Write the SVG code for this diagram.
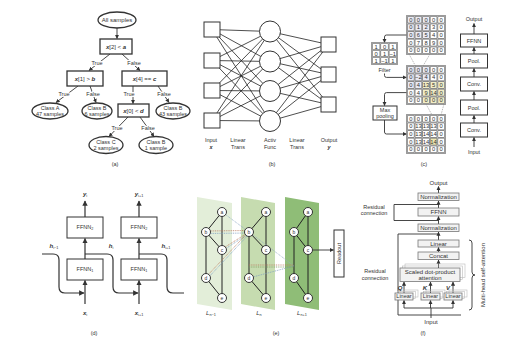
<svg xmlns="http://www.w3.org/2000/svg" width="529" height="338" viewBox="0 0 529 338">
<defs>
<style>
text{font-family:"Liberation Sans",Arial,sans-serif;fill:#333;text-anchor:middle}
.s6{font-size:6px}
.s55{font-size:5.5px}
.s5{font-size:5px}
.v{font-weight:bold;font-style:italic}
.bx{fill:#fff;stroke:#333;stroke-width:1.3}
.bx1{fill:#fff;stroke:#333;stroke-width:1}
.ln{fill:none;stroke:#333;stroke-width:0.9}
.lnk{fill:none;stroke:#222;stroke-width:0.8}
.arr{fill:none;stroke:#333;stroke-width:0.9;marker-end:url(#ah)}
.arrd{fill:none;stroke:#333;stroke-width:1.2;marker-end:url(#ah)}
.lbl{paint-order:stroke;stroke:#fff;stroke-width:2px}
.gbox{fill:#f2f2f2;stroke:#777;stroke-width:0.8}
.sh{fill:none;stroke:#bbb;stroke-width:0.6}
.dash{fill:none;stroke:#888;stroke-width:0.6;stroke-dasharray:1.5 1}
.num{font-size:5.8px;fill:#222}
.node{fill:#fff;stroke:#222;stroke-width:0.9}
.edge{fill:none;stroke:#222;stroke-width:1}
.dot{fill:none;stroke-width:0.8;stroke-dasharray:1 0.8}
.gO{fill:none;stroke:#555;stroke-width:1.5}
.gI{fill:none;stroke:#fff;stroke-width:0.45}
</style>
<marker id="ah" viewBox="0 0 10 10" refX="9" refY="5" markerWidth="4.5" markerHeight="4.5" orient="auto"><path d="M0,0L10,5L0,10z" fill="#333"/></marker>
</defs>
<rect width="529" height="338" fill="#fff"/>

<!-- ===== Panel (a) ===== -->
<g id="a-connectors">
<path class="arr" d="M117 28V38.5"/>
<path class="arr" d="M110 54L89 70.5"/>
<path class="arr" d="M122 54L140 70.5"/>
<path class="arr" d="M78 86L56 102.5"/>
<path class="arr" d="M90 86L96 102.5"/>
<path class="arr" d="M133 86V103.5"/>
<path class="arr" d="M158 86L169 102.5"/>
<path class="arr" d="M128 117L109 136.5"/>
<path class="arr" d="M140 117L154 136.5"/>
<text class="s55 lbl" x="97" y="65">True</text>
<text class="s55 lbl" x="134" y="65">False</text>
<text class="s55 lbl" x="64" y="96">True</text>
<text class="s55 lbl" x="93" y="96">False</text>
<text class="s55 lbl" x="129" y="96">True</text>
<text class="s55 lbl" x="164" y="96">False</text>
<text class="s55 lbl" x="117" y="130">True</text>
<text class="s55 lbl" x="148" y="130">False</text>
</g>
<g id="a-root"><ellipse class="bx" cx="117" cy="20" rx="19" ry="8"/><text class="s6" x="117" y="22">All samples</text></g>
<g id="a-n1"><rect class="bx" x="100" y="39" width="32" height="15"/><text class="s6" x="116" y="48.5"><tspan class="v">x</tspan>[2] &lt; <tspan class="v">a</tspan></text></g>
<g id="a-n2"><rect class="bx" x="67" y="71" width="36" height="15"/><text class="s6" x="85" y="80.5"><tspan class="v">x</tspan>[1] &gt; <tspan class="v">b</tspan></text></g>
<g id="a-n3"><rect class="bx" x="122" y="71" width="45" height="15"/><text class="s6" x="144.5" y="80.5"><tspan class="v">x</tspan>[4] == <tspan class="v">c</tspan></text></g>
<g id="a-n4"><rect class="bx" x="118" y="104" width="31" height="13"/><text class="s6" x="133.5" y="112.5"><tspan class="v">x</tspan>[0] &lt; <tspan class="v">d</tspan></text></g>
<g id="a-leafA"><ellipse class="bx" cx="50" cy="111" rx="18" ry="8"/><text class="s55" x="50" y="109.5">Class A</text><text class="s55" x="50" y="116">47 samples</text></g>
<g id="a-leafB1"><ellipse class="bx" cx="97" cy="111" rx="15" ry="8"/><text class="s55" x="97" y="109.5">Class B</text><text class="s55" x="97" y="116">6 samples</text></g>
<g id="a-leafB2"><ellipse class="bx" cx="173" cy="111" rx="17" ry="8"/><text class="s55" x="173" y="109.5">Class B</text><text class="s55" x="173" y="116">43 samples</text></g>
<g id="a-leafC"><ellipse class="bx" cx="106" cy="145" rx="17" ry="8.5"/><text class="s55" x="106" y="143.5">Class C</text><text class="s55" x="106" y="150">2 samples</text></g>
<g id="a-leafB3"><ellipse class="bx" cx="156" cy="145" rx="17" ry="8.5"/><text class="s55" x="156" y="143.5">Class B</text><text class="s55" x="156" y="150">1 sample</text></g>
<text class="s55" x="115" y="166">(a)</text>

<!-- ===== Panel (b) ===== -->
<g id="b-connectors" class="lnk">
<path d="M212 29.5L270 31.5M212 29.5L270 61.5M212 29.5L270 91M212 29.5L270 121
M212 60.5L270 31.5M212 60.5L270 61.5M212 60.5L270 91M212 60.5L270 121
M212 90.5L270 31.5M212 90.5L270 61.5M212 90.5L270 91M212 90.5L270 121
M212 120.5L270 31.5M212 120.5L270 61.5M212 120.5L270 91M212 120.5L270 121"/>
<path d="M270 31.5L328.5 44.5M270 31.5L328.5 74.5M270 31.5L328.5 104.5
M270 61.5L328.5 44.5M270 61.5L328.5 74.5M270 61.5L328.5 104.5
M270 91L328.5 44.5M270 91L328.5 74.5M270 91L328.5 104.5
M270 121L328.5 44.5M270 121L328.5 74.5M270 121L328.5 104.5"/>
</g>
<g id="b-in1"><rect class="bx1" x="204" y="22" width="16" height="15"/></g>
<g id="b-in2"><rect class="bx1" x="204" y="53" width="16" height="15"/></g>
<g id="b-in3"><rect class="bx1" x="204" y="83" width="16" height="15"/></g>
<g id="b-in4"><rect class="bx1" x="204" y="113" width="16" height="15"/></g>
<g id="b-h1"><circle class="bx1" cx="270" cy="31.5" r="10.5"/></g>
<g id="b-h2"><circle class="bx1" cx="270" cy="61.5" r="10.5"/></g>
<g id="b-h3"><circle class="bx1" cx="270" cy="91" r="10.5"/></g>
<g id="b-h4"><circle class="bx1" cx="270" cy="121" r="10.5"/></g>
<g id="b-o1"><rect class="bx1" x="321" y="37" width="15" height="15"/></g>
<g id="b-o2"><rect class="bx1" x="321" y="67" width="15" height="15"/></g>
<g id="b-o3"><rect class="bx1" x="321" y="97" width="15" height="15"/></g>
<g id="b-labels">
<text class="s55" x="211" y="142">Input</text><text class="s55 v" x="211" y="149">x</text>
<text class="s55" x="238" y="142">Linear</text><text class="s55" x="238" y="149">Trans</text>
<text class="s55" x="270" y="142">Activ</text><text class="s55" x="270" y="149">Func</text>
<text class="s55" x="297" y="142">Linear</text><text class="s55" x="297" y="149">Trans</text>
<text class="s55" x="329" y="142">Output</text><text class="s55 v" x="329" y="149">y</text>
</g>
<text class="s55" x="272" y="166">(b)</text>

<!-- ===== Panel (c) ===== -->
<g id="c-connectors">
<path class="arr" d="M407 35H386.5Q384.5 35 384.5 37V42.5"/>
<path class="arr" d="M384.5 73.5V75.5Q384.5 77.4 386.5 77.4H406.5"/>
<path class="arr" d="M407 92.6H386.5Q384.5 92.6 384.5 94.6V105.5"/>
<path class="arr" d="M384.5 120V132Q384.5 134 386.5 134H406.5"/>
<path class="dash" d="M409 54L415.5 66M430 54L423 66M426 104L432 115M444 104L441 115"/>
<path class="arr" d="M474 147V137.5"/>
<path class="arr" d="M474 123V115.5"/>
<path class="arr" d="M474 100V91.5"/>
<path class="arr" d="M474 77V68.5"/>
<path class="arr" d="M474 54V47.5"/>
<path class="arr" d="M474 34V23.5"/>
</g>
<g id="c-grid-in">
<rect x="407" y="16" width="22.8" height="22.8" fill="#ebebf3"/>
<path class="gO" d="M407 16H445V54H407ZM414.6 16V54M422.2 16V54M429.8 16V54M437.4 16V54M407 23.6H445M407 31.2H445M407 38.8H445M407 46.4H445"/>
<path class="gI" d="M407 16H445V54H407ZM414.6 16V54M422.2 16V54M429.8 16V54M437.4 16V54M407 23.6H445M407 31.2H445M407 38.8H445M407 46.4H445"/>
<g class="num">
<text y="21.8"><tspan x="410.8">0</tspan><tspan x="418.4">0</tspan><tspan x="426">0</tspan><tspan x="433.6">0</tspan><tspan x="441.2">0</tspan></text>
<text y="29.4"><tspan x="410.8">0</tspan><tspan x="418.4">1</tspan><tspan x="426">2</tspan><tspan x="433.6">3</tspan><tspan x="441.2">0</tspan></text>
<text y="37"><tspan x="410.8">0</tspan><tspan x="418.4">6</tspan><tspan x="426">5</tspan><tspan x="433.6">4</tspan><tspan x="441.2">0</tspan></text>
<text y="44.6"><tspan x="410.8">0</tspan><tspan x="418.4">7</tspan><tspan x="426">8</tspan><tspan x="433.6">9</tspan><tspan x="441.2">0</tspan></text>
<text y="52.2"><tspan x="410.8">0</tspan><tspan x="418.4">0</tspan><tspan x="426">0</tspan><tspan x="433.6">0</tspan><tspan x="441.2">0</tspan></text>
</g>
</g>
<g id="c-filter">
<path class="gO" d="M372 43H397V64H372ZM380.33 43V64M388.67 43V64M372 50H397M372 57H397"/>
<path class="gI" d="M372 43H397V64H372ZM380.33 43V64M388.67 43V64M372 50H397M372 57H397"/>
<g class="num">
<text y="48.6"><tspan x="376.2">1</tspan><tspan x="384.5">0</tspan><tspan x="392.8">1</tspan></text>
<text y="55.6"><tspan x="376.2">0</tspan><tspan x="384.5">1</tspan><tspan x="392.8">−1</tspan></text>
<text y="62.6"><tspan x="376.2">1</tspan><tspan x="384.5">−1</tspan><tspan x="392.8">1</tspan></text>
</g>
<text class="s55" x="384.5" y="71.5">Filter</text>
</g>
<g id="c-grid-conv">
<rect x="407" y="66" width="22.8" height="22.8" fill="#e8e9f3"/>
<rect x="422.2" y="81.2" width="22.8" height="22.8" fill="#f1edc6"/>
<path class="gO" d="M407 66H445V104H407ZM414.6 66V104M422.2 66V104M429.8 66V104M437.4 66V104M407 73.6H445M407 81.2H445M407 88.8H445M407 96.4H445"/>
<path class="gI" d="M407 66H445V104H407ZM414.6 66V104M422.2 66V104M429.8 66V104M437.4 66V104M407 73.6H445M407 81.2H445M407 88.8H445M407 96.4H445"/>
<g class="num">
<text y="71.8"><tspan x="410.8">0</tspan><tspan x="418.4">0</tspan><tspan x="426">0</tspan><tspan x="433.6">0</tspan><tspan x="441.2">0</tspan></text>
<text y="79.4"><tspan x="410.8">0</tspan><tspan x="418.4">−2</tspan><tspan x="426">4</tspan><tspan x="433.6">4</tspan><tspan x="441.2">0</tspan></text>
<text y="87"><tspan x="410.8">0</tspan><tspan x="418.4">4</tspan><tspan x="426">13</tspan><tspan x="433.6">5</tspan><tspan x="441.2">0</tspan></text>
<text y="94.6"><tspan x="410.8">0</tspan><tspan x="418.4">4</tspan><tspan x="426">9</tspan><tspan x="433.6">14</tspan><tspan x="441.2">0</tspan></text>
<text y="102.2"><tspan x="410.8">0</tspan><tspan x="418.4">0</tspan><tspan x="426">0</tspan><tspan x="433.6">0</tspan><tspan x="441.2">0</tspan></text>
</g>
</g>
<g id="c-maxpool"><rect class="bx1" x="373" y="106" width="24" height="14"/><text class="s55" x="385" y="112">Max</text><text class="s55" x="385" y="118">pooling</text></g>
<g id="c-grid-pool">
<rect x="429.8" y="137.8" width="7.6" height="7.6" fill="#efe8b0"/>
<path class="gO" d="M407 115H445V153H407ZM414.6 115V153M422.2 115V153M429.8 115V153M437.4 115V153M407 122.6H445M407 130.2H445M407 137.8H445M407 145.4H445"/>
<path class="gI" d="M407 115H445V153H407ZM414.6 115V153M422.2 115V153M429.8 115V153M437.4 115V153M407 122.6H445M407 130.2H445M407 137.8H445M407 145.4H445"/>
<g class="num">
<text y="120.8"><tspan x="410.8">0</tspan><tspan x="418.4">0</tspan><tspan x="426">0</tspan><tspan x="433.6">0</tspan><tspan x="441.2">0</tspan></text>
<text y="128.4"><tspan x="410.8">0</tspan><tspan x="418.4">13</tspan><tspan x="426">13</tspan><tspan x="433.6">13</tspan><tspan x="441.2">0</tspan></text>
<text y="136"><tspan x="410.8">0</tspan><tspan x="418.4">13</tspan><tspan x="426">14</tspan><tspan x="433.6">14</tspan><tspan x="441.2">0</tspan></text>
<text y="143.6"><tspan x="410.8">0</tspan><tspan x="418.4">13</tspan><tspan x="426">14</tspan><tspan x="433.6">14</tspan><tspan x="441.2">0</tspan></text>
<text y="151.2"><tspan x="410.8">0</tspan><tspan x="418.4">0</tspan><tspan x="426">0</tspan><tspan x="433.6">0</tspan><tspan x="441.2">0</tspan></text>
</g>
</g>
<g id="c-output"><text class="s55" x="474" y="21">Output</text></g>
<g id="c-ffnn"><rect class="bx1" x="460.5" y="34" width="27" height="13"/><text class="s55" x="474" y="42.5">FFNN</text></g>
<g id="c-pool2"><rect class="bx1" x="460.5" y="54" width="27" height="14"/><text class="s55" x="474" y="63">Pool.</text></g>
<g id="c-conv2"><rect class="bx1" x="460.5" y="77" width="27" height="14"/><text class="s55" x="474" y="86">Conv.</text></g>
<g id="c-pool1"><rect class="bx1" x="460.5" y="100" width="27" height="15"/><text class="s55" x="474" y="109.5">Pool.</text></g>
<g id="c-conv1"><rect class="bx1" x="460.5" y="123" width="27" height="14"/><text class="s55" x="474" y="132">Conv.</text></g>
<g id="c-input"><text class="s55" x="474" y="154">Input</text></g>
<text class="s55" x="424" y="166">(c)</text>

<!-- ===== Panel (d) ===== -->
<g id="d-connectors">
<path class="arrd" d="M85 217V201"/>
<path class="arrd" d="M85 259V238.5"/>
<path class="arrd" d="M85 304V280.5"/>
<path class="arrd" d="M139 217V201"/>
<path class="arrd" d="M139 259V238.5"/>
<path class="arrd" d="M139 304V280.5"/>
<path class="arrd" d="M42 254H53Q59 254 59 260V287Q59 293 65 293H84"/>
<path class="arrd" d="M85 254H107Q113 254 113 260V287Q113 293 119 293H138"/>
<path fill="none" stroke="#333" stroke-width="1.2" d="M139 254H161Q167 254 167 260V287Q167 293 173 293H184"/>
</g>
<g id="d-ffnn2a"><rect class="bx1" x="67" y="217" width="36" height="21"/><text class="s55" x="85" y="229">FFNN<tspan font-size="3.8" dy="1.3">2</tspan></text></g>
<g id="d-ffnn1a"><rect class="bx1" x="67" y="259" width="36" height="21"/><text class="s55" x="85" y="271">FFNN<tspan font-size="3.8" dy="1.3">1</tspan></text></g>
<g id="d-ffnn2b"><rect class="bx1" x="121" y="217" width="36" height="21"/><text class="s55" x="139" y="229">FFNN<tspan font-size="3.8" dy="1.3">2</tspan></text></g>
<g id="d-ffnn1b"><rect class="bx1" x="121" y="259" width="36" height="21"/><text class="s55" x="139" y="271">FFNN<tspan font-size="3.8" dy="1.3">1</tspan></text></g>
<g id="d-labels">
<text class="s6" x="85" y="196"><tspan class="v">y</tspan><tspan font-size="3.8" dy="1.3">i</tspan></text>
<text class="s6" x="139" y="196"><tspan class="v">y</tspan><tspan font-size="3.8" dy="1.3">i+1</tspan></text>
<text class="s6" x="54" y="248"><tspan class="v">h</tspan><tspan font-size="3.8" dy="1.3">i−1</tspan></text>
<text class="s6" x="111" y="248"><tspan class="v">h</tspan><tspan font-size="3.8" dy="1.3">i</tspan></text>
<text class="s6" x="166" y="248"><tspan class="v">h</tspan><tspan font-size="3.8" dy="1.3">i+1</tspan></text>
<text class="s6" x="85" y="315"><tspan class="v">x</tspan><tspan font-size="3.8" dy="1.3">i</tspan></text>
<text class="s6" x="139" y="315"><tspan class="v">x</tspan><tspan font-size="3.8" dy="1.3">i+1</tspan></text>
</g>
<text class="s55" x="94" y="335">(d)</text>

<!-- ===== Panel (e) ===== -->
<g id="e-plane1"><polygon points="197,197 232,203 232,310 197,304" fill="#e3eed9"/></g>
<g id="e-plane2"><polygon points="241,197 275,203 275,310 241,304" fill="#c6dcb0"/></g>
<g id="e-plane3"><polygon points="285,197 319,203 319,310 285,304" fill="#8fbd77"/></g>
<g id="e-connectors">
<path class="edge" d="M222 212L206 232M222 212V298M206 232L222 250M206 232V278M206 278L222 298"/>
<path class="edge" d="M266 212L249 232M266 212V298M249 232L266 250M249 232V278M249 278L266 298"/>
<path class="edge" d="M308 212L294 232M308 212V298M294 232L308 250M294 232V278M294 278L308 298"/>
<path class="dot" stroke="#8fa9c4" d="M222 212L249 232"/>
<path class="dot" stroke="#b87a5e" d="M206 231L249 230.5"/>
<path class="dot" stroke="#7f9fc0" d="M206 233.5L249 233"/>
<path class="dot" stroke="#b87a5e" d="M222 249L249 232"/>
<path class="dot" stroke="#7f9fc0" d="M222 251L249 233.5"/>
<path class="dot" stroke="#b87a5e" d="M206 277L249 231.5"/>
<path class="dot" stroke="#7f9fc0" d="M207 279L249.5 233.5"/>
<path class="dot" stroke="#93a9c2" d="M249 232L294 266"/>
<path class="dot" stroke="#7f9fc0" d="M249 278L294 266"/>
<path class="dot" stroke="#b87a5e" stroke-width="1" d="M249 265H294"/>
<path class="dot" stroke="#7f9a5e" stroke-width="1" d="M249 267H294"/>
<path class="arr" d="M313 250H333.5"/>
</g>
<g id="e-a1"><circle class="node" cx="222" cy="212" r="4.5"/><text class="s5" x="222" y="213.8">a</text></g>
<g id="e-b1"><circle class="node" cx="206" cy="232" r="4.5"/><text class="s5" x="206" y="233.8">b</text></g>
<g id="e-c1"><circle class="node" cx="222" cy="250" r="4.5"/><text class="s5" x="222" y="251.8">c</text></g>
<g id="e-d1"><circle class="node" cx="206" cy="278" r="4.5"/><text class="s5" x="206" y="279.8">d</text></g>
<g id="e-e1"><circle class="node" cx="222" cy="298" r="4.5"/><text class="s5" x="222" y="299.8">e</text></g>
<g id="e-a2"><circle class="node" cx="266" cy="212" r="4.5"/><text class="s5" x="266" y="213.8">a</text></g>
<g id="e-b2"><circle class="node" cx="249" cy="232" r="4.5"/><text class="s5" x="249" y="233.8">b</text></g>
<g id="e-c2"><circle class="node" cx="266" cy="250" r="4.5"/><text class="s5" x="266" y="251.8">c</text></g>
<g id="e-d2"><circle class="node" cx="249" cy="278" r="4.5"/><text class="s5" x="249" y="279.8">d</text></g>
<g id="e-e2"><circle class="node" cx="266" cy="298" r="4.5"/><text class="s5" x="266" y="299.8">e</text></g>
<g id="e-a3"><circle class="node" cx="308" cy="212" r="4.5"/><text class="s5" x="308" y="213.8">a</text></g>
<g id="e-b3"><circle class="node" cx="294" cy="232" r="4.5"/><text class="s5" x="294" y="233.8">b</text></g>
<g id="e-c3"><circle class="node" cx="308" cy="250" r="4.5"/><text class="s5" x="308" y="251.8">c</text></g>
<g id="e-d3"><circle class="node" cx="294" cy="278" r="4.5"/><text class="s5" x="294" y="279.8">d</text></g>
<g id="e-e3"><circle class="node" cx="308" cy="298" r="4.5"/><text class="s5" x="308" y="299.8">e</text></g>
<g id="e-readout"><rect class="bx1" x="334" y="230" width="10" height="47"/><text class="s55" transform="translate(341 253.5) rotate(-90)">Readout</text></g>
<g id="e-labels">
<text class="s6" x="211" y="315"><tspan font-style="italic">L</tspan><tspan font-size="3.8" dy="1.3">n−1</tspan></text>
<text class="s6" x="259" y="315"><tspan font-style="italic">L</tspan><tspan font-size="3.8" dy="1.3">n</tspan></text>
<text class="s6" x="302" y="315"><tspan font-style="italic">L</tspan><tspan font-size="3.8" dy="1.3">n+1</tspan></text>
</g>
<text class="s55" x="276" y="335">(e)</text>

<!-- ===== Panel (f) ===== -->
<g id="f-connectors">
<path class="arr" d="M438.5 193V186.5"/>
<path class="arr" d="M438.5 208V201"/>
<path class="arr" d="M438.5 224V216.5"/>
<path class="arr" d="M438.5 240V232"/>
<path class="arr" d="M438.5 252V247.5"/>
<path class="arr" d="M438.5 268V260"/>
<path class="ln" d="M438.5 220.5H394V204.5H438.5"/>
<path class="ln" d="M431 315H398V234H438.5"/>
<path class="ln" d="M431 315H461"/>
<path class="ln" d="M431 318V308M404 308H453"/>
<path class="arr" d="M404 308V300.5"/>
<path class="arr" d="M430.5 308V300.5"/>
<path class="arr" d="M453 308V300.5"/>
<path class="arr" d="M404 293V282"/>
<path class="arr" d="M430.5 293V282"/>
<path class="arr" d="M453 293V282"/>
<path class="ln" d="M469 240Q472 240 472 243V272Q472 275 475 275Q472 275 472 278V307Q472 310 469 310"/>
</g>
<g id="f-output"><text class="s6" x="438.5" y="185">Output</text></g>
<g id="f-norm2"><rect class="gbox" x="418" y="193" width="41" height="7.5"/><text class="s6" x="438.5" y="198.9">Normalization</text></g>
<g id="f-ffnn"><rect class="gbox" x="418" y="208" width="41" height="8"/><text class="s6" x="438.5" y="214.2">FFNN</text></g>
<g id="f-norm1"><rect class="gbox" x="418" y="224" width="41" height="7.5"/><text class="s6" x="438.5" y="229.9">Normalization</text></g>
<g id="f-linear"><rect class="gbox" x="418" y="240" width="41" height="7"/><text class="s6" x="438.5" y="245.7">Linear</text></g>
<g id="f-concat"><rect class="gbox" x="418" y="252" width="41" height="7.5"/><text class="s6" x="438.5" y="257.9">Concat</text></g>
<g id="f-attn">
<rect class="sh" x="405" y="264" width="60" height="13.5"/>
<rect class="sh" x="402.5" y="266" width="60" height="13.5"/>
<rect class="gbox" x="400" y="268" width="60" height="13.5"/>
<text class="s6" x="430" y="274">Scaled dot-product</text><text class="s6" x="430" y="280">attention</text>
</g>
<g id="f-linq"><rect class="sh" x="400" y="290" width="18" height="7"/><rect class="sh" x="397.5" y="291.5" width="18" height="7"/><rect class="gbox" x="395" y="293" width="18" height="7"/><text class="s55" x="404" y="298.3">Linear</text></g>
<g id="f-link"><rect class="sh" x="426" y="290" width="19" height="7"/><rect class="sh" x="423.5" y="291.5" width="19" height="7"/><rect class="gbox" x="421" y="293" width="19" height="7"/><text class="s55" x="430.5" y="298.3">Linear</text></g>
<g id="f-linv"><rect class="sh" x="449" y="290" width="18" height="7"/><rect class="sh" x="446.5" y="291.5" width="18" height="7"/><rect class="gbox" x="444" y="293" width="18" height="7"/><text class="s55" x="453" y="298.3">Linear</text></g>
<g id="f-labels">
<text class="s6 v" x="400" y="290">Q</text>
<text class="s6 v" x="425" y="290">K</text>
<text class="s6 v" x="448" y="290">V</text>
<text class="s6" x="431" y="323.5">Input</text>
<text class="s55" x="374" y="208.5">Residual</text><text class="s55" x="374" y="215">connection</text>
<text class="s55" x="375" y="273">Residual</text><text class="s55" x="375" y="279.5">connection</text>
<text class="s6" transform="translate(485 275) rotate(-90)">Multi-head self-attention</text>
</g>
<text class="s55" x="423" y="335">(f)</text>
</svg>
